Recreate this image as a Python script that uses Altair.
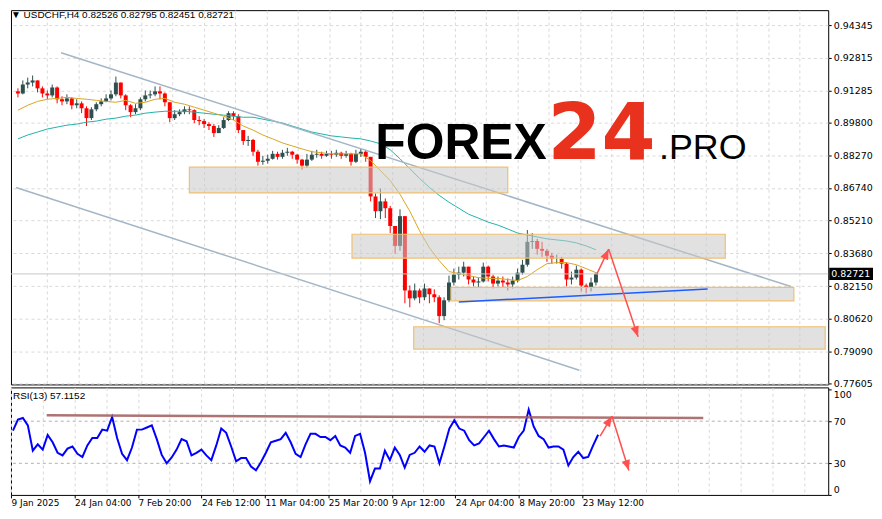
import json
import altair as alt
import pandas as pd

# ---------------- data ----------------
symbol = "USDCHF,H4"
last_ohlc = ["0.82526", "0.82795", "0.82451", "0.82721"]
last_price = 0.82721
rsi_label = "RSI(13) 57.1152"

# price axis ticks and time labels (one label every 64 H4 bars)
price_ticks = [0.94345, 0.92815, 0.91285, 0.89800, 0.88270, 0.86740,
               0.85210, 0.83680, 0.82150, 0.80620, 0.79090, 0.77605]
date_labels = ["9 Jan 2025", "24 Jan 04:00", "7 Feb 20:00", "24 Feb 12:00",
               "11 Mar 04:00", "25 Mar 20:00", "9 Apr 12:00", "24 Apr 04:00",
               "8 May 20:00", "23 May 12:00"]

# candles, each one grouping 5 H4 bars
open_first = 0.9125
close = [0.9115, 0.9157, 0.9166, 0.9176, 0.9139, 0.9115, 0.9106, 0.9143, 0.9088, 0.9078,
         0.9092, 0.9060, 0.9069, 0.9046, 0.9000, 0.9041, 0.9065, 0.9078, 0.9092, 0.9111,
         0.9166, 0.9106, 0.9060, 0.9028, 0.9046, 0.9088, 0.9106, 0.9111, 0.9125, 0.9115,
         0.9074, 0.9000, 0.9018, 0.9028, 0.9041, 0.9037, 0.8991, 0.8986, 0.8972, 0.8963,
         0.8930, 0.8954, 0.8991, 0.9023, 0.9009, 0.8944, 0.8893, 0.8898, 0.8843, 0.8796,
         0.8801, 0.8810, 0.8833, 0.8819, 0.8838, 0.8843, 0.8829, 0.8806, 0.8778, 0.8806,
         0.8829, 0.8833, 0.8824, 0.8833, 0.8829, 0.8838, 0.8824, 0.8833, 0.8796, 0.8833,
         0.8843, 0.8819, 0.8634, 0.8565, 0.8611, 0.8579, 0.8496, 0.8403, 0.8542, 0.8195,
         0.8158, 0.8195, 0.8163, 0.8204, 0.8177, 0.8163, 0.8075, 0.8149, 0.8232, 0.8269,
         0.8278, 0.8306, 0.8246, 0.8232, 0.8237, 0.8306, 0.8260, 0.8227, 0.8241, 0.8232,
         0.8223, 0.8241, 0.8278, 0.8315, 0.8422, 0.8426, 0.8389, 0.8380, 0.8357, 0.8343,
         0.8343, 0.8320, 0.8246, 0.8255, 0.8292, 0.8218, 0.8209, 0.8232, 0.8272]
high = [0.9139, 0.9176, 0.9189, 0.9199, 0.9176, 0.9148, 0.9129, 0.9157, 0.9148, 0.9102,
        0.9111, 0.9097, 0.9088, 0.9078, 0.9055, 0.9051, 0.9074, 0.9092, 0.9111, 0.9129,
        0.9194, 0.9166, 0.9111, 0.9065, 0.9065, 0.9097, 0.9129, 0.9129, 0.9148, 0.9148,
        0.9120, 0.9074, 0.9037, 0.9041, 0.9055, 0.9055, 0.9041, 0.9009, 0.8995, 0.8981,
        0.8972, 0.8967, 0.9004, 0.9032, 0.9032, 0.9018, 0.8944, 0.8917, 0.8903, 0.8852,
        0.8824, 0.8829, 0.8847, 0.8843, 0.8852, 0.8861, 0.8847, 0.8833, 0.8810, 0.8833,
        0.8847, 0.8852, 0.8843, 0.8847, 0.8847, 0.8852, 0.8843, 0.8847, 0.8838, 0.8852,
        0.8856, 0.8852, 0.8819, 0.8648, 0.8671, 0.8625, 0.8590, 0.8496, 0.8574, 0.8542,
        0.8218, 0.8227, 0.8204, 0.8227, 0.8204, 0.8200, 0.8172, 0.8163, 0.8264, 0.8297,
        0.8306, 0.8329, 0.8306, 0.8260, 0.8255, 0.8325, 0.8311, 0.8269, 0.8260, 0.8260,
        0.8251, 0.8260, 0.8297, 0.8338, 0.8477, 0.8463, 0.8436, 0.8422, 0.8389, 0.8371,
        0.8362, 0.8352, 0.8325, 0.8283, 0.8311, 0.8297, 0.8227, 0.8255, 0.8280]
low = [0.9097, 0.9111, 0.9139, 0.9148, 0.9120, 0.9097, 0.9088, 0.9097, 0.9069, 0.9060,
       0.9065, 0.9041, 0.9046, 0.9023, 0.8963, 0.8991, 0.9032, 0.9055, 0.9074, 0.9083,
       0.9102, 0.9092, 0.9037, 0.9004, 0.9018, 0.9037, 0.9078, 0.9092, 0.9102, 0.9088,
       0.9055, 0.8981, 0.8991, 0.9009, 0.9018, 0.9018, 0.8977, 0.8967, 0.8954, 0.8944,
       0.8912, 0.8930, 0.8949, 0.8986, 0.8991, 0.8930, 0.8875, 0.8870, 0.8824, 0.8778,
       0.8782, 0.8787, 0.8806, 0.8806, 0.8810, 0.8824, 0.8810, 0.8787, 0.8759, 0.8769,
       0.8800, 0.8815, 0.8810, 0.8819, 0.8810, 0.8819, 0.8810, 0.8815, 0.8778, 0.8790,
       0.8819, 0.8796, 0.8611, 0.8533, 0.8528, 0.8533, 0.8463, 0.8366, 0.8380, 0.8135,
       0.8116, 0.8149, 0.8135, 0.8149, 0.8135, 0.8140, 0.8042, 0.8056, 0.8140, 0.8218,
       0.8246, 0.8260, 0.8223, 0.8214, 0.8209, 0.8232, 0.8237, 0.8204, 0.8214, 0.8209,
       0.8195, 0.8204, 0.8232, 0.8269, 0.8306, 0.8389, 0.8362, 0.8352, 0.8329, 0.8320,
       0.8320, 0.8297, 0.8214, 0.8223, 0.8246, 0.8190, 0.8181, 0.8190, 0.8218]

# moving averages, one value every 10 H4 bars
ma_fast = [0.9037, 0.9060, 0.9078, 0.9088, 0.9092, 0.9097, 0.9092, 0.9088, 0.9083, 0.9078,
           0.9074, 0.9083, 0.9069, 0.9074, 0.9088, 0.9092, 0.9074, 0.9065, 0.9051, 0.9037,
           0.9023, 0.9009, 0.8991, 0.8963, 0.8944, 0.8921, 0.8903, 0.8884, 0.8870, 0.8856,
           0.8843, 0.8838, 0.8833, 0.8833, 0.8833, 0.8833, 0.8801, 0.8755, 0.8708, 0.8644,
           0.8565, 0.8473, 0.8394, 0.8334, 0.8283, 0.8274, 0.8264, 0.8255, 0.8251, 0.8251,
           0.8246, 0.8241, 0.8260, 0.8292, 0.8320, 0.8325, 0.8325, 0.8315, 0.8297, 0.8278]
ma_slow = [0.8903, 0.8921, 0.8935, 0.8949, 0.8958, 0.8967, 0.8972, 0.8981, 0.8986, 0.8995,
           0.9000, 0.9009, 0.9014, 0.9023, 0.9028, 0.9032, 0.9032, 0.9032, 0.9028, 0.9023,
           0.9018, 0.9014, 0.9009, 0.9004, 0.9004, 0.8995, 0.8986, 0.8977, 0.8963, 0.8949,
           0.8935, 0.8926, 0.8917, 0.8912, 0.8907, 0.8903, 0.8893, 0.8880, 0.8852, 0.8810,
           0.8764, 0.8718, 0.8676, 0.8639, 0.8607, 0.8579, 0.8551, 0.8533, 0.8514, 0.8500,
           0.8482, 0.8463, 0.8454, 0.8445, 0.8436, 0.8431, 0.8426, 0.8417, 0.8403, 0.8385]

# RSI(13), one value per candle
rsi = [61, 71.5, 73, 66, 42, 48, 43, 57, 50, 40,
       37.5, 44, 46, 39, 36, 47, 54, 54, 62, 61,
       74, 54, 39, 33, 45, 62, 62, 64, 66, 53,
       38, 30, 35.6, 43, 53, 51, 37.5, 40, 43, 37.5,
       33, 47, 63, 59, 46, 32, 35, 35, 27, 23.4,
       31, 40, 50, 51.5, 53, 59, 50, 39, 36, 48,
       58, 58, 55, 55, 52, 56, 47, 45, 40, 56,
       58, 40, 13, 25, 25, 42, 33, 45, 38, 26,
       38, 40, 46, 41, 47, 46, 30, 46, 63, 71,
       63, 61, 52, 47, 49, 55, 61, 53, 46, 47,
       46, 45, 55, 61, 81, 65, 56, 53, 45, 46,
       46, 43, 28, 36, 41, 35, 36, 47, 57.1]

# drawn objects: time in H4 bars from 9 Jan 2025, price
channel_bar0 = [46, 0]
channel_bar1 = [791, 575]
channel_p0 = [0.93051, 0.86760]
channel_p1 = [0.82135, 0.78223]

zone_bar0 = [177, 343, 444, 406]
zone_bar1 = [502, 724, 794, 826]
zone_top = [0.87709, 0.84573, 0.82089, 0.80253]
zone_bottom = [0.86506, 0.83463, 0.81465, 0.79208]

support_bar = [452, 706]
support_price = [0.81409, 0.82011]

arrow_bar = [593, 605, 635]
arrow_price = [0.82721, 0.83879, 0.79791]
arrow_angle = [25, 161]

rsi_arrow_bar = [594, 606, 623]
rsi_arrow_val = [55.9, 74.7, 23.2]
rsi_arrow_angle = [32, 163]

rsi_level_bar = [36, 698]
rsi_level_val = [75.6, 73.1]
rsi_levels = [30, 70]

# ---------------- tables ----------------
STEP = 5
n = len(close)
candles = pd.DataFrame({
    "bar": [STEP * i + 2 for i in range(n)],
    "open": [open_first] + close[:-1],
    "high": high, "low": low, "close": close,
})
candles["dir"] = ["up" if c >= o else "down" for o, c in zip(candles["open"], candles["close"])]

ma = pd.DataFrame({"bar": [10 * k + 2 for k in range(len(ma_fast))],
                   "fast": ma_fast, "slow": ma_slow})
rsi_df = pd.DataFrame({"bar": [STEP * i + 2 for i in range(len(rsi))], "rsi": rsi})

channels = pd.DataFrame({"b0": channel_bar0, "b1": channel_bar1, "p0": channel_p0, "p1": channel_p1})
zones = pd.DataFrame({"b0": zone_bar0, "b1": zone_bar1, "top": zone_top, "bottom": zone_bottom})
support = pd.DataFrame({"b0": [support_bar[0]], "b1": [support_bar[1]],
                        "p0": [support_price[0]], "p1": [support_price[1]]})
shafts = pd.DataFrame({"b0": arrow_bar[:-1], "b1": arrow_bar[1:],
                       "p0": arrow_price[:-1], "p1": arrow_price[1:]})
heads = pd.DataFrame({"b": arrow_bar[1:], "p": arrow_price[1:], "ang": arrow_angle})
rsi_shafts = pd.DataFrame({"b0": rsi_arrow_bar[:-1], "b1": rsi_arrow_bar[1:],
                           "v0": rsi_arrow_val[:-1], "v1": rsi_arrow_val[1:]})
rsi_heads = pd.DataFrame({"b": rsi_arrow_bar[1:], "v": rsi_arrow_val[1:], "ang": rsi_arrow_angle})
rsi_level = pd.DataFrame({"b0": [rsi_level_bar[0]], "b1": [rsi_level_bar[1]],
                          "v0": [rsi_level_val[0]], "v1": [rsi_level_val[1]]})
last_df = pd.DataFrame({"p": [last_price], "t": [f"{last_price:.5f}"]})

# ---------------- scales / axes ----------------
W, H_MAIN, H_RSI = 821, 376, 108
FONT = "DejaVu Sans"
xs = alt.Scale(domain=[0, 824], nice=False, zero=False)
ys = alt.Scale(domain=[0.77559, 0.95043], nice=False, zero=False)
rs = alt.Scale(domain=[0, 102.1], nice=False, zero=False)
GRID = "#d9d9d9"
last_label_bar = 64 * (len(date_labels) - 1)

x_axis_main = alt.Axis(values=list(range(32, 824, 32)), grid=True, gridDash=[3, 3],
                       gridColor=GRID, labels=False, ticks=False, domain=False, title=None)
y_axis_main = alt.Axis(orient="right", values=price_ticks, format=".5f", grid=True,
                       gridDash=[3, 3], gridColor=GRID, domain=False, tickColor="black",
                       tickSize=3, labelPadding=2, title=None)

label_list = json.dumps(date_labels)
x_axis_rsi = alt.Axis(
    values=list(range(0, 824, 32)), grid=True, gridDash=[3, 3], gridColor=GRID,
    labelExpr=f"(datum.value % 64 == 0 && datum.value <= {last_label_bar}) ? {label_list}[datum.value / 64] : ''",
    labelAlign="left", labelFlush=False, labelOverlap=False, labelPadding=1, labelFontSize=9,
    tickSize=3, tickColor="black",
    tickOpacity={"condition": {"test": f"datum.value % 64 != 0 || datum.value > {last_label_bar}",
                               "value": 0}, "value": 1},
    domain=False, title=None)
y_axis_rsi = alt.Axis(orient="right", values=[0, 30, 70, 100], format="d", grid=False,
                      domain=False, tickSize=3, tickColor="black", labelPadding=2,
                      labelFlush=3, title=None)


def Xm(f):
    return alt.X(f, type="quantitative", scale=xs, axis=x_axis_main)


def Ym(f):
    return alt.Y(f, type="quantitative", scale=ys, axis=y_axis_main)


def Xr(f):
    return alt.X(f, type="quantitative", scale=xs, axis=x_axis_rsi)


def Yr(f):
    return alt.Y(f, type="quantitative", scale=rs, axis=y_axis_rsi)


cdir = alt.Color("dir:N", scale=alt.Scale(domain=["up", "down"], range=["#2f4f4f", "#ff0000"]),
                 legend=None)
ARROW = "#ff4f4f"
HEAD = "M0,0L-0.8,2L0.8,2Z"

# ---------------- main panel ----------------
wick = alt.Chart(candles).mark_rule(strokeWidth=1).encode(
    x=Xm("bar"), y=Ym("low"), y2="high", color=cdir)
body = alt.Chart(candles).mark_bar(size=4).encode(x=Xm("bar"), y=Ym("open"), y2="close", color=cdir)
slow_line = alt.Chart(ma).mark_line(color="#20b2aa", strokeWidth=1).encode(x=Xm("bar"), y=Ym("slow"))
fast_line = alt.Chart(ma).mark_line(color="#daa520", strokeWidth=1).encode(x=Xm("bar"), y=Ym("fast"))
chan = alt.Chart(channels).mark_rule(color="#a3b6c6", strokeWidth=1.5).encode(
    x=Xm("b0"), x2="b1", y=Ym("p0"), y2="p1")
bid = alt.Chart(last_df).mark_rule(color="#c8c8c8", strokeWidth=1).encode(y=Ym("p"))
zone = alt.Chart(zones).mark_rect(fill="#c8c8c8", fillOpacity=0.55, stroke="#f0c070",
                                  strokeWidth=1.2).encode(x=Xm("b0"), x2="b1", y=Ym("top"), y2="bottom")
sup = alt.Chart(support).mark_rule(color="#1f5cff", strokeWidth=1.5).encode(
    x=Xm("b0"), x2="b1", y=Ym("p0"), y2="p1")
shaft = alt.Chart(shafts).mark_rule(color=ARROW, strokeWidth=1.5).encode(
    x=Xm("b0"), x2="b1", y=Ym("p0"), y2="p1")
head = alt.Chart(heads).mark_point(shape=HEAD, filled=True, size=110, color=ARROW, opacity=1).encode(
    x=Xm("b"), y=Ym("p"), angle=alt.Angle("ang:Q", scale=None))

header = alt.Chart(pd.DataFrame({"t": ["\u25bc " + symbol + " " + " ".join(last_ohlc)]})).mark_text(
    align="left", baseline="middle", font="Liberation Sans", fontSize=10, color="black").encode(
    x=alt.value(0), y=alt.value(5), text="t:N")

wm1 = alt.Chart(pd.DataFrame({"t": ["FOREX"]})).mark_text(
    align="left", baseline="alphabetic", font="Liberation Sans", fontWeight="bold", fontSize=50,
    color="black").encode(x=alt.value(366), y=alt.value(150), text="t:N")
wm2 = alt.Chart(pd.DataFrame({"t": ["24"]})).mark_text(
    align="left", baseline="alphabetic", font="DejaVu Sans", fontWeight="bold", fontSize=78,
    color="#e8321e").encode(x=alt.value(539), y=alt.value(150), text="t:N")
wm3 = alt.Chart(pd.DataFrame({"t": [".PRO"]})).mark_text(
    align="left", baseline="alphabetic", font="Liberation Sans", fontSize=36,
    color="black").encode(x=alt.value(651), y=alt.value(150), text="t:N")

tag_bg = alt.Chart(last_df).mark_point(
    shape="M-1,-0.28L1,-0.28L1,0.28L-1,0.28Z", filled=True, size=1936, color="black", opacity=1).encode(
    x=alt.value(W + 23), y=Ym("p"))
tag_txt = alt.Chart(last_df).mark_text(align="left", baseline="middle", font=FONT, fontSize=9.5,
                                       color="white").encode(x=alt.value(W + 3), y=Ym("p"), text="t:N")

main = alt.layer(wick, body, slow_line, fast_line, chan, bid, zone, sup, shaft, head,
                 header, wm1, wm2, wm3, tag_bg, tag_txt).properties(width=W, height=H_MAIN)

# ---------------- RSI panel ----------------
rsi_line = alt.Chart(rsi_df).mark_line(color="#0000ff", strokeWidth=2).encode(
    x=Xr("bar"), y=Yr("rsi"))
levels = alt.Chart(pd.DataFrame({"v": rsi_levels})).mark_rule(
    color="#b0b0b0", strokeWidth=1, strokeDash=[3, 3]).encode(y=Yr("v"))
rlevel = alt.Chart(rsi_level).mark_rule(color="#a05a5a", strokeWidth=2.5, opacity=0.85).encode(
    x=Xr("b0"), x2="b1", y=Yr("v0"), y2="v1")
rshaft = alt.Chart(rsi_shafts).mark_rule(color=ARROW, strokeWidth=1.5).encode(
    x=Xr("b0"), x2="b1", y=Yr("v0"), y2="v1")
rhead = alt.Chart(rsi_heads).mark_point(shape=HEAD, filled=True, size=110, color=ARROW, opacity=1).encode(
    x=Xr("b"), y=Yr("v"), angle=alt.Angle("ang:Q", scale=None))
rlabel = alt.Chart(pd.DataFrame({"t": [rsi_label]})).mark_text(
    align="left", baseline="middle", font="Liberation Sans", fontSize=10, color="black").encode(
    x=alt.value(2), y=alt.value(9), text="t:N")

rsi_chart = alt.layer(levels, rsi_line, rlevel, rshaft, rhead, rlabel).properties(width=W, height=H_RSI)

chart = alt.vconcat(main, rsi_chart, spacing=3, bounds="flush").properties(
    padding=0, background="white"
).configure_view(stroke="black", strokeWidth=1).configure_axis(
    labelFont=FONT, labelFontSize=9.5, labelColor="black")

chart.save("out.html", embed_options={"renderer": "svg", "actions": False})
